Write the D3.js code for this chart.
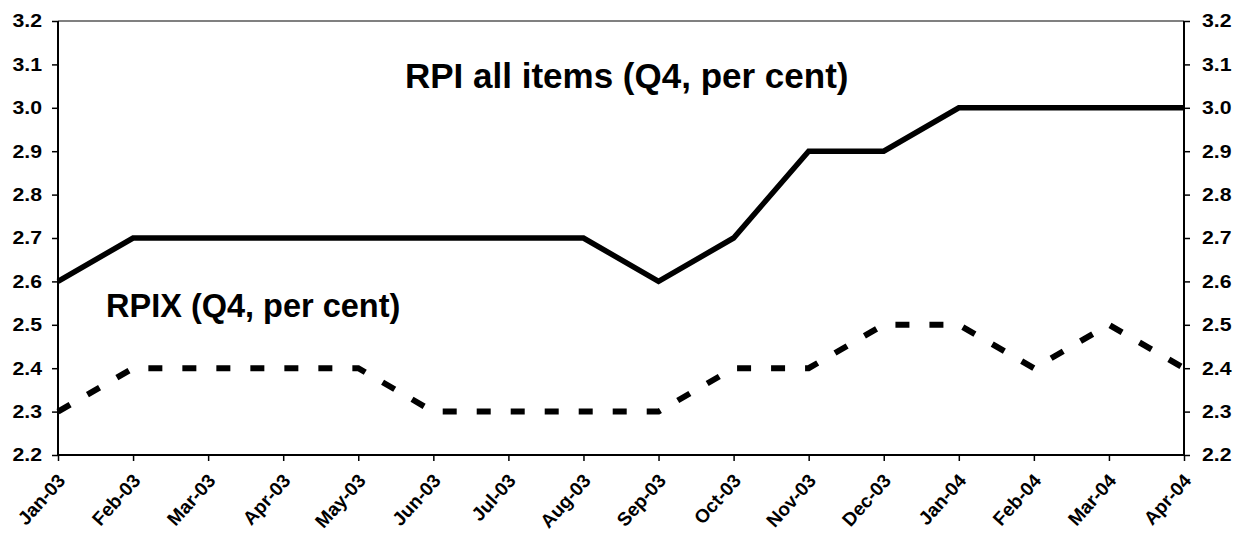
<!DOCTYPE html>
<html>
<head>
<meta charset="utf-8">
<script src="https://cdn.jsdelivr.net/npm/d3@7"></script>
<style>
  body { margin: 0; background: #fff; }
  text { font-family: "Liberation Sans", Arial, sans-serif; font-weight: bold; }
</style>
</head>
<body>
<script>
// months on the x axis
var months = ['Jan-03','Feb-03','Mar-03','Apr-03','May-03','Jun-03','Jul-03','Aug-03',
  'Sep-03','Oct-03','Nov-03','Dec-03','Jan-04','Feb-04','Mar-04','Apr-04'];

// RPI all items, Q4 per cent
var rpi = [2.6, 2.7, 2.7, 2.7, 2.7, 2.7, 2.7, 2.7, 2.6, 2.7, 2.9, 2.9, 3.0, 3.0, 3.0, 3.0];

// RPIX, Q4 per cent
var rpix = [2.3, 2.4, 2.4, 2.4, 2.4, 2.3, 2.3, 2.3, 2.3, 2.4, 2.4, 2.5, 2.5, 2.4, 2.5, 2.4];

var yTicks = [2.2, 2.3, 2.4, 2.5, 2.6, 2.7, 2.8, 2.9, 3.0, 3.1, 3.2];

var width = 1242, height = 544;
var margin = { top: 21, right: 58, bottom: 89, left: 58 };
var w = width - margin.left - margin.right;
var h = height - margin.top - margin.bottom;
var sx = 1.15; // labels in the original look a bit wide

var svg = d3.select('body')
  .append('svg')
  .attr('width', width)
  .attr('height', height);

var g = svg.append('g')
  .attr('transform', 'translate(' + margin.left + ',' + margin.top + ')');

var x = d3.scalePoint()
  .domain(months)
  .range([0, w]);

var y = d3.scaleLinear()
  .domain([2.2, 3.2])
  .range([h, 0]);

// top border
g.append('line')
  .attr('x1', 0).attr('x2', w)
  .attr('y1', 0).attr('y2', 0)
  .attr('stroke', '#808080')
  .attr('stroke-width', 2);

// axes
var yLeft = g.append('g')
  .call(d3.axisLeft(y).tickValues(yTicks).tickFormat(d3.format('.1f')).tickSize(6).tickPadding(10));
var yRight = g.append('g')
  .attr('transform', 'translate(' + w + ',0)')
  .call(d3.axisRight(y).tickValues(yTicks).tickFormat(d3.format('.1f')).tickSize(6).tickPadding(12));
var xAxis = g.append('g')
  .attr('transform', 'translate(0,' + h + ')')
  .call(d3.axisBottom(x).tickSize(6).tickFormat(''));

[yLeft, yRight, xAxis].forEach(function(a){
  a.select('.domain').attr('stroke', '#000').attr('stroke-width', 2);
  a.selectAll('.tick line').attr('stroke', '#000').attr('stroke-width', 1.5);
});
yLeft.select('.domain').attr('d', 'M0,' + h + 'V0');
yRight.select('.domain').attr('d', 'M0,' + h + 'V0');
xAxis.select('.domain').attr('d', 'M0,0H' + w);

[yLeft, yRight].forEach(function(a){
  a.selectAll('.tick text')
    .attr('fill', '#000')
    .attr('x', function(){ return +d3.select(this).attr('x') / sx; })
    .attr('transform', 'scale(' + sx + ',1)')
    .style('font-size', '18.5px');
});

// rotated month labels
xAxis.selectAll('.tick')
  .append('text')
    .text(function(d){ return d; })
    .attr('text-anchor', 'end')
    .attr('transform', 'translate(3,22) rotate(-48)')
    .attr('dy', '0.35em')
    .attr('fill', '#000')
    .style('font-size', '19px');

var line = d3.line()
  .x(function(d, i){ return x(months[i]); })
  .y(function(d){ return y(d); });

g.append('path')
  .datum(rpi)
  .attr('d', line)
  .attr('fill', 'none')
  .attr('stroke', '#000')
  .attr('stroke-width', 5.5);

g.append('path')
  .datum(rpix)
  .attr('d', line)
  .attr('fill', 'none')
  .attr('stroke', '#000')
  .attr('stroke-width', 6)
  .attr('stroke-dasharray', '14,20');

// series labels
g.append('text')
  .attr('x', 347)
  .attr('y', 67)
  .style('font-size', '35px')
  .text('RPI all items (Q4, per cent)');

g.append('text')
  .attr('x', 48)
  .attr('y', 296)
  .style('font-size', '32.5px')
  .text('RPIX (Q4, per cent)');
</script>
</body>
</html>
